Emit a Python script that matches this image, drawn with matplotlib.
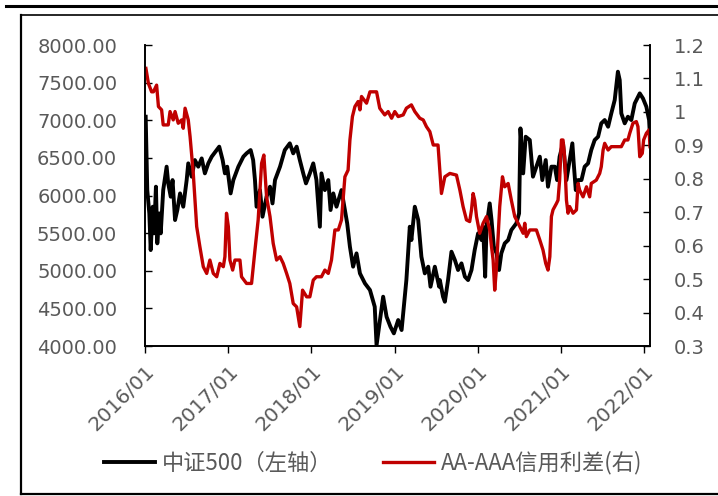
import matplotlib
matplotlib.use("Agg")
import matplotlib.pyplot as plt
import matplotlib.dates as mdates
from matplotlib.lines import Line2D
import pandas as pd

# 中证500 close (left axis)
csi_dates = [
    "2016-01-04", "2016-01-11", "2016-01-20", "2016-01-26", "2016-02-04", "2016-02-10",
    "2016-02-18", "2016-02-24", "2016-03-04", "2016-03-10", "2016-03-21", "2016-04-05",
    "2016-04-12", "2016-04-23", "2016-05-01", "2016-05-12", "2016-05-22", "2016-06-03",
    "2016-06-17", "2016-07-02", "2016-07-09", "2016-07-24", "2016-08-07", "2016-08-22",
    "2016-09-06", "2016-09-20", "2016-10-05", "2016-10-20", "2016-11-11", "2016-11-22",
    "2016-12-07", "2016-12-17", "2016-12-27", "2017-01-11", "2017-01-23", "2017-02-14",
    "2017-03-08", "2017-03-22", "2017-04-09", "2017-04-20", "2017-04-28", "2017-05-05",
    "2017-05-20", "2017-05-31", "2017-06-18", "2017-07-03", "2017-07-14", "2017-07-25",
    "2017-08-16", "2017-09-06", "2017-09-28", "2017-10-13", "2017-10-28", "2017-11-11",
    "2017-11-26", "2017-12-08", "2017-12-25", "2018-01-09", "2018-01-23", "2018-02-07",
    "2018-02-14", "2018-03-01", "2018-03-16", "2018-03-26", "2018-04-07", "2018-04-21",
    "2018-05-13", "2018-05-23", "2018-06-07", "2018-06-19", "2018-07-03", "2018-07-18",
    "2018-08-02", "2018-08-24", "2018-09-15", "2018-10-06", "2018-10-14", "2018-11-12",
    "2018-11-27", "2018-12-14", "2018-12-29", "2019-01-17", "2019-02-01", "2019-02-22",
    "2019-03-09", "2019-03-16", "2019-03-31", "2019-04-15", "2019-04-29", "2019-05-14",
    "2019-05-29", "2019-06-08", "2019-06-27", "2019-07-16", "2019-07-19", "2019-08-02",
    "2019-08-10", "2019-08-24", "2019-09-08", "2019-09-23", "2019-10-07", "2019-10-22",
    "2019-11-06", "2019-11-20", "2019-12-05", "2019-12-19", "2020-01-03", "2020-01-18",
    "2020-01-25", "2020-02-03", "2020-02-09", "2020-02-23", "2020-03-02", "2020-03-12",
    "2020-03-24", "2020-04-04", "2020-04-14", "2020-04-29", "2020-05-14", "2020-05-28",
    "2020-06-19", "2020-07-01", "2020-07-07", "2020-07-19", "2020-07-30", "2020-08-17",
    "2020-08-31", "2020-09-15", "2020-09-30", "2020-10-11", "2020-10-26", "2020-11-05",
    "2020-11-20", "2020-12-05", "2020-12-15", "2020-12-26", "2021-01-10", "2021-01-25",
    "2021-02-08", "2021-02-20", "2021-02-26", "2021-03-07", "2021-03-17", "2021-04-01",
    "2021-04-15", "2021-04-30", "2021-05-14", "2021-05-29", "2021-06-13", "2021-06-27",
    "2021-07-12", "2021-07-27", "2021-08-10", "2021-08-25", "2021-09-08", "2021-09-16",
    "2021-09-23", "2021-10-08", "2021-10-22", "2021-11-06", "2021-11-21", "2021-12-13",
    "2021-12-27", "2022-01-11", "2022-01-23", "2022-01-27",
]
csi_close = [
    7047, 6072, 5762, 5275, 5851, 5497,
    6117, 5364, 5762, 5497, 6072, 6383,
    6161, 5984, 6205, 5674, 5807, 6028,
    5851, 6205, 6427, 6250, 6471, 6383,
    6493, 6294, 6427, 6516, 6604, 6649,
    6471, 6294, 6383, 6028, 6205, 6383,
    6516, 6560, 6604, 6471, 6205, 5851,
    6072, 5718, 5984, 6117, 5895, 6205,
    6383, 6604, 6693, 6560, 6649, 6471,
    6294, 6161, 6294, 6427, 6205, 5585,
    6294, 6072, 6205, 5807, 6028, 5851,
    6072, 5895, 5630, 5320, 5054, 5231,
    4965, 4832, 4744, 4522, 4010, 4655,
    4389, 4256, 4168, 4345, 4212, 4877,
    5585, 5408, 5851, 5674, 5187, 4965,
    5054, 4788, 5054, 4788, 4876, 4655,
    4588, 4876, 5253, 5142, 5010, 5098,
    4921, 4876, 5010, 5275, 5497, 5408,
    5585, 4921, 5585, 5895, 5674, 5320,
    5231, 5010, 5231, 5364, 5408, 5541,
    5630, 5762, 6892, 6294, 6781, 6737,
    6250, 6383, 6516, 6205, 6471, 6117,
    6383, 6383, 6205, 6516, 6693, 6205,
    6471, 6693, 6427, 6072, 6205, 6205,
    6383, 6427, 6604, 6737, 6781, 6959,
    7003, 6914, 7091, 7269, 7645, 7534,
    7091, 6959, 7047, 7003, 7224, 7357,
    7291, 7180, 7003, 6781,
]

# AA-AAA credit spread (right axis)
spread_dates = [
    "2016-01-05", "2016-01-16", "2016-01-30", "2016-02-07", "2016-02-21", "2016-02-29",
    "2016-03-14", "2016-03-21", "2016-04-12", "2016-04-20", "2016-05-04", "2016-05-12",
    "2016-05-26", "2016-06-10", "2016-06-17", "2016-06-25", "2016-07-09", "2016-07-17",
    "2016-07-31", "2016-08-15", "2016-08-29", "2016-09-13", "2016-09-28", "2016-10-12",
    "2016-10-27", "2016-11-11", "2016-11-25", "2016-12-10", "2016-12-17", "2016-12-24",
    "2017-01-01", "2017-01-08", "2017-01-20", "2017-01-30", "2017-02-21", "2017-02-28",
    "2017-03-22", "2017-04-13", "2017-04-28", "2017-05-12", "2017-05-27", "2017-06-06",
    "2017-06-18", "2017-07-03", "2017-07-17", "2017-08-01", "2017-08-16", "2017-08-30",
    "2017-09-14", "2017-09-28", "2017-10-13", "2017-10-28", "2017-11-11", "2017-11-23",
    "2017-12-11", "2017-12-25", "2018-01-09", "2018-01-23", "2018-02-14", "2018-03-01",
    "2018-03-16", "2018-03-30", "2018-04-14", "2018-04-29", "2018-05-13", "2018-05-28",
    "2018-06-11", "2018-06-19", "2018-06-30", "2018-07-11", "2018-07-25", "2018-08-02",
    "2018-08-09", "2018-08-31", "2018-09-15", "2018-10-14", "2018-10-28", "2018-11-19",
    "2018-12-04", "2018-12-19", "2019-01-02", "2019-01-17", "2019-02-08", "2019-02-22",
    "2019-03-16", "2019-03-31", "2019-04-22", "2019-05-07", "2019-05-21", "2019-06-05",
    "2019-06-20", "2019-07-11", "2019-07-22", "2019-07-26", "2019-08-10", "2019-09-01",
    "2019-09-30", "2019-10-15", "2019-10-29", "2019-11-13", "2019-11-27", "2019-12-05",
    "2019-12-12", "2019-12-19", "2019-12-27", "2020-01-10", "2020-01-25", "2020-02-09",
    "2020-02-23", "2020-03-02", "2020-03-09", "2020-03-16", "2020-03-23", "2020-04-07",
    "2020-04-19", "2020-04-29", "2020-05-14", "2020-05-28", "2020-06-12", "2020-07-04",
    "2020-07-19", "2020-07-26", "2020-08-02", "2020-08-17", "2020-09-15", "2020-09-30",
    "2020-10-14", "2020-10-26", "2020-11-05", "2020-11-13", "2020-11-20", "2020-11-27",
    "2020-12-12", "2020-12-19", "2020-12-26", "2021-01-03", "2021-01-10", "2021-01-17",
    "2021-01-25", "2021-02-01", "2021-02-08", "2021-02-23", "2021-03-10", "2021-03-17",
    "2021-03-24", "2021-04-08", "2021-04-23", "2021-05-07", "2021-05-14", "2021-06-05",
    "2021-06-20", "2021-06-27", "2021-07-05", "2021-07-12", "2021-07-27", "2021-08-10",
    "2021-09-23", "2021-10-08", "2021-10-22", "2021-10-30", "2021-11-13", "2021-11-28",
    "2021-12-05", "2021-12-13", "2021-12-24", "2021-12-30", "2022-01-11", "2022-01-23",
    "2022-01-27",
]
spread = [
    1.130, 1.085, 1.060, 1.060, 1.080, 1.016,
    1.006, 0.961, 0.961, 1.001, 0.976, 1.001,
    0.966, 0.976, 0.951, 1.011, 0.976, 0.926,
    0.816, 0.657, 0.597, 0.537, 0.517, 0.557,
    0.517, 0.507, 0.547, 0.537, 0.567, 0.697,
    0.657, 0.557, 0.527, 0.557, 0.557, 0.507,
    0.487, 0.487, 0.587, 0.677, 0.846, 0.871,
    0.746, 0.687, 0.607, 0.557, 0.567, 0.547,
    0.517, 0.487, 0.427, 0.417, 0.358, 0.467,
    0.447, 0.447, 0.497, 0.507, 0.507, 0.527,
    0.517, 0.557, 0.647, 0.647, 0.677, 0.806,
    0.826, 0.916, 0.986, 1.016, 1.031, 1.006,
    1.046, 1.026, 1.060, 1.060, 1.011, 0.991,
    1.001, 0.981, 1.001, 0.986, 0.991, 1.011,
    1.021, 1.001, 0.981, 0.976, 0.956, 0.941,
    0.901, 0.901, 0.796, 0.756, 0.806, 0.816,
    0.811, 0.766, 0.717, 0.677, 0.672, 0.707,
    0.756, 0.736, 0.687, 0.637, 0.667, 0.687,
    0.647, 0.597, 0.557, 0.467, 0.527, 0.717,
    0.806, 0.776, 0.786, 0.736, 0.687, 0.657,
    0.637, 0.667, 0.627, 0.647, 0.647, 0.617,
    0.587, 0.547, 0.527, 0.567, 0.687, 0.707,
    0.726, 0.736, 0.796, 0.916, 0.916, 0.866,
    0.736, 0.697, 0.717, 0.697, 0.707, 0.786,
    0.766, 0.746, 0.776, 0.746, 0.786, 0.796,
    0.816, 0.836, 0.886, 0.906, 0.886, 0.896,
    0.896, 0.916, 0.916, 0.936, 0.966, 0.971,
    0.956, 0.866, 0.876, 0.916, 0.936, 0.946,
    0.896,
]

left_ticks = [4000, 4500, 5000, 5500, 6000, 6500, 7000, 7500, 8000]
right_ticks = [0.3, 0.4, 0.5, 0.6, 0.7, 0.8, 0.9, 1.0, 1.1, 1.2]
right_labels = ["0.3", "0.4", "0.5", "0.6", "0.7", "0.8", "0.9", "1", "1.1", "1.2"]
year_ticks = ["2016-01-01", "2017-01-01", "2018-01-01", "2019-01-01",
              "2020-01-01", "2021-01-01", "2022-01-01"]
labels = ["中证500（左轴）", "AA-AAA信用利差(右)"]

TEXT = "#595959"
plt.rcParams["font.family"] = ["DejaVu Sans"]

fig = plt.figure(figsize=(7.18, 4.96), dpi=100)
ax = fig.add_axes([145 / 718, 150 / 496, 505 / 718, 301 / 496])
ax2 = ax.twinx()

l1, = ax.plot(pd.to_datetime(csi_dates), csi_close, color="black", lw=2.8,
              solid_joinstyle="round")
l2, = ax2.plot(pd.to_datetime(spread_dates), spread, color="#C00000", lw=2.4,
               solid_joinstyle="round")

ax.set_xlim(pd.Timestamp("2016-01-01"), pd.Timestamp("2022-01-27"))
ax.set_ylim(4000, 8000)
ax2.set_ylim(0.3, 1.2)

ax.set_yticks(left_ticks)
ax.set_yticklabels([f"{v:.2f}" for v in left_ticks])
ax2.set_yticks(right_ticks)
ax2.set_yticklabels(right_labels)
ax.set_xticks(pd.to_datetime(year_ticks))
ax.xaxis.set_major_formatter(mdates.DateFormatter("%Y/%m"))

for a in (ax, ax2):
    a.spines["top"].set_visible(False)
    for s in ("left", "right", "bottom"):
        a.spines[s].set_linewidth(1.2)
ax.tick_params(axis="y", direction="in", length=5, width=1.0,
               labelsize=14, labelcolor=TEXT, pad=20)
ax2.tick_params(axis="y", direction="in", length=5, width=1.0,
                labelsize=14, labelcolor=TEXT, pad=17)
ax.tick_params(axis="x", direction="out", length=5, width=1.0,
               labelsize=14.5, labelcolor=TEXT, pad=6)
for lab in ax.get_xticklabels():
    lab.set_rotation(45)
    lab.set_ha("right")
    lab.set_va("top")
    lab.set_rotation_mode("anchor")

fig.legend([l1, l2], labels, loc="center", bbox_to_anchor=(373 / 718, 1 - 463 / 496),
           ncol=2, frameon=False, handlelength=2.3, handletextpad=0.3,
           columnspacing=2.3,
           prop={"family": ["Noto Sans CJK SC", "DejaVu Sans"], "size": 16},
           labelcolor=TEXT)

# outer border
fig.add_artist(Line2D([6 / 718, 1], [1 - 6 / 496] * 2, color="black", lw=2.2))
fig.add_artist(Line2D([21 / 718, 1], [1 - 15 / 496] * 2, color="#262626", lw=1.4))
fig.add_artist(Line2D([21 / 718] * 2, [1 - 15 / 496, 1 - 494 / 496], color="black", lw=1.6))
fig.add_artist(Line2D([21 / 718, 1], [1 - 494 / 496] * 2, color="black", lw=1.6))

fig.savefig("out.png", dpi=100)
